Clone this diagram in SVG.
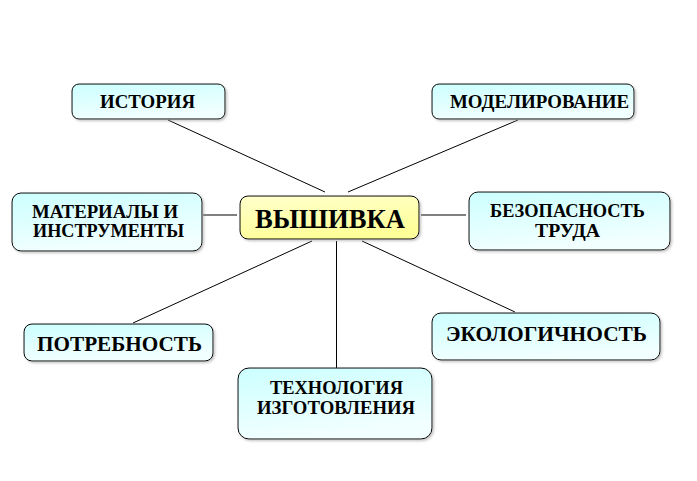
<svg xmlns="http://www.w3.org/2000/svg" width="697" height="481" viewBox="0 0 697 481">
<style>
.box{fill:url(#gc);stroke:#000;stroke-width:1}
.cbox{fill:url(#gy);stroke:#000;stroke-width:1}
.t{font-family:"Liberation Serif","Times New Roman",serif;font-weight:bold;font-size:18px;fill:#000;text-anchor:middle}
.tb{font-size:22px}
.tc{font-family:"Liberation Serif","Times New Roman",serif;font-weight:bold;font-size:28px;fill:#000;text-anchor:middle}
.c line{stroke:#000;stroke-width:1}
</style>
<defs>
<linearGradient id="gc" x1="0" y1="0" x2="0.3" y2="1">
<stop offset="0" stop-color="#ccffff"/>
<stop offset="1" stop-color="#f2ffff"/>
</linearGradient>
<linearGradient id="gy" x1="0" y1="0" x2="0.3" y2="1">
<stop offset="0" stop-color="#ffffcc"/>
<stop offset="1" stop-color="#ffff99"/>
</linearGradient>
<filter id="sh" x="-10%" y="-10%" width="120%" height="130%">
<feDropShadow dx="1.5" dy="1.5" stdDeviation="0.8" flood-color="#999" flood-opacity="0.6"/>
</filter>
</defs>
<rect width="697" height="481" fill="#fff"/>
<g class="c" id="connectors">
<line x1="168" y1="120" x2="325" y2="192"/>
<line x1="518" y1="120" x2="348" y2="192"/>
<line x1="203" y1="215" x2="237" y2="215"/>
<line x1="421" y1="215" x2="466" y2="215"/>
<line x1="133" y1="323" x2="312" y2="241"/>
<line x1="515" y1="312" x2="362" y2="241"/>
<line x1="336.5" y1="241" x2="336.5" y2="368"/>
</g>
<g id="istoriya">
<rect class="box" filter="url(#sh)" x="72" y="84" width="153" height="35" rx="7"/>
<text class="t" x="147.5" y="108" textLength="95" lengthAdjust="spacingAndGlyphs">ИСТОРИЯ</text>
</g>
<g id="modelirovanie">
<rect class="box" filter="url(#sh)" x="432" y="84" width="202" height="35" rx="7"/>
<text class="t" x="539.5" y="108" textLength="179" lengthAdjust="spacingAndGlyphs">МОДЕЛИРОВАНИЕ</text>
</g>
<g id="materialy">
<rect class="box" filter="url(#sh)" x="12" y="193" width="190" height="58" rx="9"/>
<text class="t" x="105" y="218" textLength="146" lengthAdjust="spacingAndGlyphs">МАТЕРИАЛЫ И</text>
<text class="t" x="108.5" y="237" textLength="151" lengthAdjust="spacingAndGlyphs">ИНСТРУМЕНТЫ</text>
</g>
<g id="vyshivka">
<rect class="cbox" filter="url(#sh)" x="240" y="196" width="179" height="43" rx="8"/>
<text class="tc" x="330" y="228" textLength="150" lengthAdjust="spacingAndGlyphs">ВЫШИВКА</text>
</g>
<g id="bezopasnost">
<rect class="box" filter="url(#sh)" x="469" y="192" width="201" height="58" rx="9"/>
<text class="t" x="567.5" y="217" textLength="155" lengthAdjust="spacingAndGlyphs">БЕЗОПАСНОСТЬ</text>
<text class="t" x="567.5" y="237" textLength="65" lengthAdjust="spacingAndGlyphs">ТРУДА</text>
</g>
<g id="potrebnost">
<rect class="box" filter="url(#sh)" x="24" y="324" width="189" height="37" rx="8"/>
<text class="t tb" x="119.5" y="351" textLength="165" lengthAdjust="spacingAndGlyphs">ПОТРЕБНОСТЬ</text>
</g>
<g id="ekologichnost">
<rect class="box" filter="url(#sh)" x="432" y="313" width="228" height="47" rx="9"/>
<text class="t tb" x="546.5" y="341" textLength="201" lengthAdjust="spacingAndGlyphs">ЭКОЛОГИЧНОСТЬ</text>
</g>
<g id="tehnologiya">
<rect class="box" filter="url(#sh)" x="238" y="368" width="194" height="71" rx="11"/>
<text class="t" x="336.5" y="394" textLength="133" lengthAdjust="spacingAndGlyphs">ТЕХНОЛОГИЯ</text>
<text class="t" x="336" y="414" textLength="158" lengthAdjust="spacingAndGlyphs">ИЗГОТОВЛЕНИЯ</text>
</g>
</svg>
